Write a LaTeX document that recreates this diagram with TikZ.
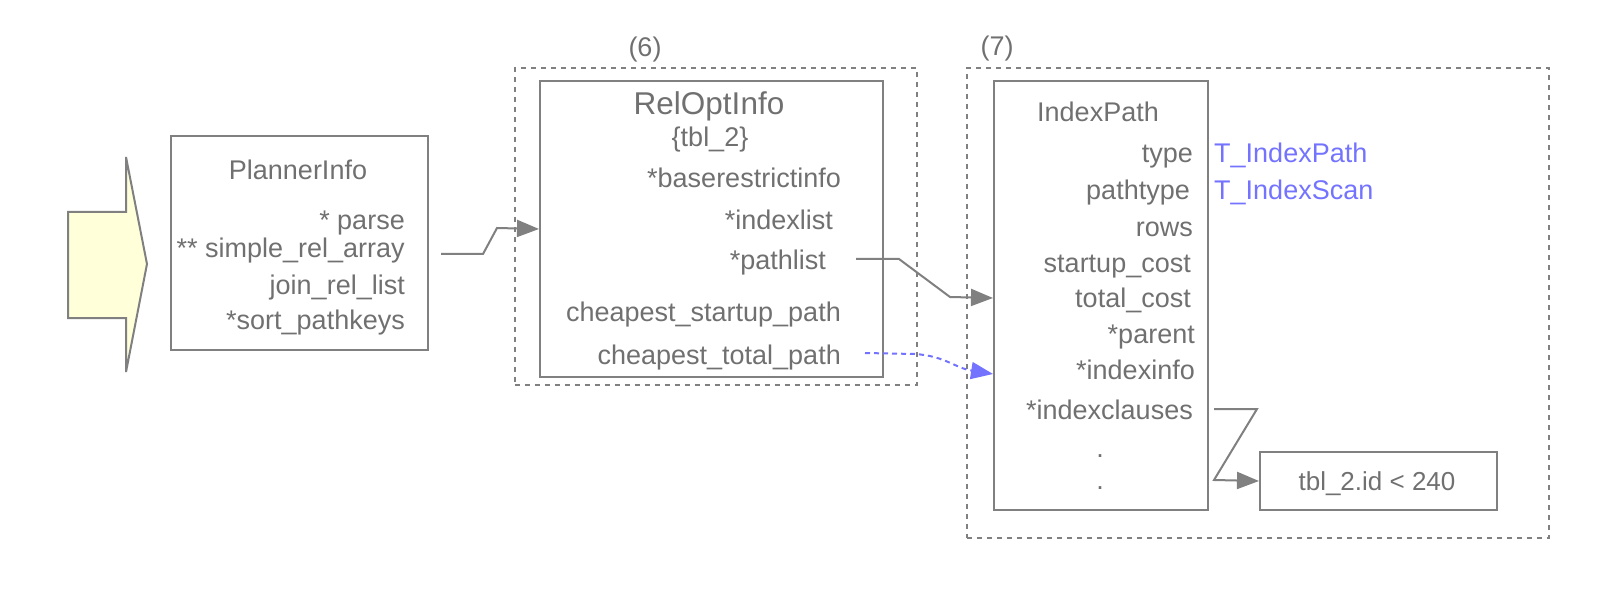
\documentclass[tikz,border=0pt]{standalone}
\usepackage{fontspec}
\setmainfont{Liberation Sans}
\usetikzlibrary{arrows.meta,calc}
\definecolor{ln}{HTML}{808080}
\definecolor{tx}{HTML}{707070}
\definecolor{bl}{HTML}{7373FF}
\definecolor{yl}{HTML}{FFFFD9}
\begin{document}
\begin{tikzpicture}[x=1pt,y=-1pt,
  fld/.style={text=tx, font=\fontsize{27}{32}\selectfont, inner sep=0pt, text height=19pt, text depth=6pt, yshift=-3pt},
  ttl/.style={fld, font=\fontsize{31.5}{36}\selectfont, text height=22pt, text depth=7pt},
  blu/.style={fld, text=bl},
  boxst/.style={draw=ln, line width=2pt, inner sep=0pt},
  dotbox/.style={draw=ln, line width=1.6pt, dash pattern=on 5pt off 5pt, inner sep=0pt},
  conn/.style={draw=ln, line width=2pt, -{Triangle[length=22pt,width=17pt]}},
  bconn/.style={draw=bl, line width=2pt, dash pattern=on 5pt off 4pt, -{Triangle[length=22pt,width=17pt,fill=bl]}},
]
\useasboundingbox (0,0) rectangle (1618,604);

% big arrow
\filldraw[fill=yl, draw=ln, line width=2pt, line join=miter]
  (68,212) -- (126,212) -- (126,157) -- (147,264) -- (126,372) -- (126,318) -- (68,318) -- cycle;

% boxes
\node[boxst, minimum width=257pt, minimum height=214pt, anchor=north west] (pi) at (170,135) {};
\node[dotbox, minimum width=402pt, minimum height=317pt, anchor=north west] (d6) at (514,67) {};
\node[boxst, minimum width=343pt, minimum height=296pt, anchor=north west] (rel) at (539,80) {};
\node[dotbox, minimum width=582pt, minimum height=470pt, anchor=north west] (d7) at (966,67) {};
\node[boxst, minimum width=214pt, minimum height=429pt, anchor=north west] (ip) at (993,80) {};
\node[boxst, minimum width=237pt, minimum height=58pt, anchor=north west] (tb) at (1259,451) {};

% labels
\node[fld] (l6) at (645,47) {(6)};
\node[fld] (l7) at (997,46) {(7)};

% PlannerInfo
\node[fld] (pit) at (298,170) {PlannerInfo};
\node[fld, anchor=east] (pa) at (405,220) {* parse};
\node[fld, anchor=east] (sra) at (405,248) {** simple\_rel\_array};
\node[fld, anchor=east] (jrl) at (405,285) {join\_rel\_list};
\node[fld, anchor=east] (spk) at (405,320) {*sort\_pathkeys};

% RelOptInfo
\node[ttl] (relt) at (709,104) {RelOptInfo};
\node[fld] (tbl) at (710,137) {\{tbl\_2\}};
\node[fld, anchor=east] (bri) at (841,178) {*baserestrictinfo};
\node[fld, anchor=east] (ixl) at (833,220) {*indexlist};
\node[fld, anchor=east] (pl) at (826,260) {*pathlist};
\node[fld, anchor=east] (csp) at (841,312) {cheapest\_startup\_path};
\node[fld, anchor=east] (ctp) at (841,355) {cheapest\_total\_path};

% IndexPath
\node[fld] (ipt) at (1098,112) {IndexPath};
\node[fld, anchor=east] (ty) at (1193,153) {type};
\node[fld, anchor=east] (pty) at (1190,190) {pathtype};
\node[fld, anchor=east] (rw) at (1193,227) {rows};
\node[fld, anchor=east] (sc) at (1191,263) {startup\_cost};
\node[fld, anchor=east] (tc) at (1191,298) {total\_cost};
\node[fld, anchor=east] (par) at (1195,334) {*parent};
\node[fld, anchor=east] (ixi) at (1195,370) {*indexinfo};
\node[fld, anchor=east] (ixc) at (1193,410) {*indexclauses};
\node[fld] (dt1) at (1100,448) {.};
\node[fld] (dt2) at (1100,480) {.};
\node[blu, anchor=west] (tip) at (1214,153) {T\_IndexPath};
\node[blu, anchor=west] (tis) at (1214,190) {T\_IndexScan};

% tbl box text
\node[fld, font=\fontsize{26}{31}\selectfont] (tbt) at (1377,481) {tbl\_2.id < 240};

% connectors
\coordinate (c1) at (441,254);
\draw[conn] (c1) -- (483,254) -- (497,228) -- (rel.west);
\coordinate (c2) at (856,259);
\draw[conn] (c2) -- (899,259) -- (950,297) -- ($(ip.west)+(0,2.5)$);
\coordinate (c3) at (865,353);
\draw[bconn] (c3) -- (915,354) .. controls (945,356) and (955,368) .. ($(ip.west)+(0,78.5)$);
\coordinate (c4) at (1214,409);
\draw[conn] (c4) -- (1257,409) -- (1214,480) -- (tb.west);
\end{tikzpicture}
\end{document}
